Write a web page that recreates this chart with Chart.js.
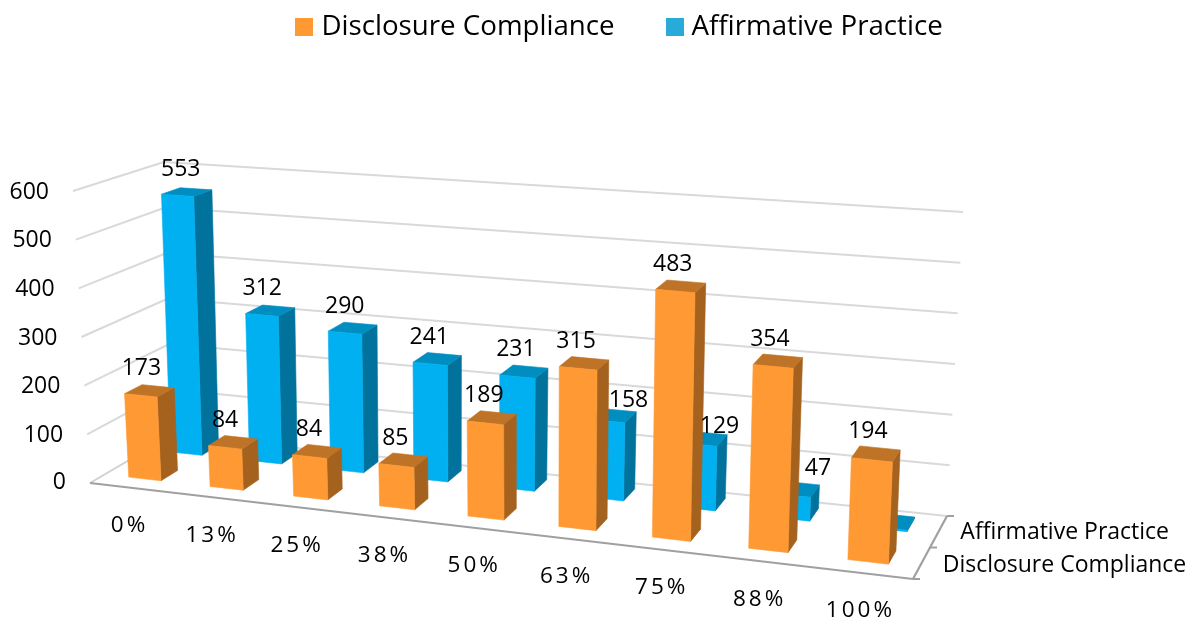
<!DOCTYPE html>
<html><head><meta charset="utf-8">
<style>html,body{margin:0;padding:0;background:#fff}#w{width:1194px;height:621px}</style>
<script src="https://cdn.jsdelivr.net/npm/chart.js@4/dist/chart.umd.min.js"></script>
</head><body><div id="w"><canvas id="c" width="1194" height="621"></canvas></div>
<script>
const categories = ['0%','13%','25%','38%','50%','63%','75%','88%','100%'];
const disclosure = [173,84,84,85,189,315,483,354,194];
const affirmative = [553,312,290,241,231,158,129,47,3];
const yTicks = {min:0,max:600,step:100};

// projection of the 3D box (corners of floor and of the 600 plane)
const box = {
  f0:[[90,483],[913,579]], b0:[[172,435],[947,516]],
  f1:[[73,191],[926,259]], b1:[[164,162],[963,212]]
};
const warp = u => 0.88*u/(1-u*0.12);
const mix = (a,b,t)=>[a[0]+(b[0]-a[0])*t,a[1]+(b[1]-a[1])*t];
function P(u,v,d){
  const g=warp(u);
  const lo=mix(mix(box.f0[0],box.f0[1],g),mix(box.b0[0],box.b0[1],g),d);
  const hi=mix(mix(box.f1[0],box.f1[1],g),mix(box.b1[0],box.b1[1],g),d);
  return mix(lo,hi,v);
}
const depth=[[0.18,0.39],[0.70,0.91]];
const styles=[
 {front:'#FF9933',side:'#A5621F',top:'#BF7327'},
 {front:'#00B0F0',side:'#00729C',top:'#008DBF'}
];
const legendColors=['#FF9933','#29ABD9'];
const fontFam='"Open Sans"';
const nudge={1:{0:[2,-1],5:[24,7],6:[24,10],7:[30,1]}};
const minLabel=10;

function legendBox(col){const c=document.createElement('canvas');c.width=18;c.height=18;const x=c.getContext('2d');x.fillStyle=col;x.fillRect(0,0,18,18);return c;}
function poly(ctx,pts,col){ctx.beginPath();pts.forEach((p,i)=>i?ctx.lineTo(p[0],p[1]):ctx.moveTo(p[0],p[1]));ctx.closePath();ctx.fillStyle=col;ctx.strokeStyle=col;ctx.lineWidth=.6;ctx.fill();ctx.stroke();}
function line(ctx,a,b,col,w){ctx.beginPath();ctx.moveTo(a[0],a[1]);ctx.lineTo(b[0],b[1]);ctx.strokeStyle=col;ctx.lineWidth=w;ctx.stroke();}
const norm=(chart,el)=>{const x=chart.scales.x,y=chart.scales.y;const U=p=>(p-x.left)/x.width,V=p=>(y.bottom-p)/y.height;
  return {u0:U(el.x-el.width/2),u1:U(el.x+el.width/2),uc:U(el.x),v0:V(el.base),v1:V(el.y)};};

const scene={id:'scene',
 beforeDatasetsDraw(chart){
  const ctx=chart.ctx,y=chart.scales.y;ctx.save();
  y.ticks.forEach(t=>{const v=(y.bottom-y.getPixelForValue(t.value))/y.height;
    const a=P(0,v,0),b=P(0,v,1),c=P(1,v,1);
    if(t.value>0){line(ctx,a,b,'#D9D9D9',2);}
    else line(ctx,a,b,'#D0D0D0',2);
    line(ctx,b,c,'#D9D9D9',2);
    ctx.font='23px '+fontFam;ctx.fillStyle='#000';ctx.textAlign='right';ctx.textBaseline='middle';
    ctx.fillText(String(t.value),a[0]-24,a[1]+1-(t.value?0:2));
  });
  const ax='#A0A0A0';
  line(ctx,P(0,0,0),P(1,0,0),ax,2.2);
  line(ctx,P(1,0,0),P(1,0,1),ax,2.2);
  [0,.5,1].forEach(d=>{const p=P(1,0,d);line(ctx,p,[p[0]+7,p[1]],ax,2);});
  ctx.restore();
 },
 beforeDatasetDraw(chart,args){
  const ctx=chart.ctx,meta=args.meta,i=args.index,[d0,d1]=depth[i],s=styles[i];
  ctx.save();
  meta.data.forEach(el=>{const n=norm(chart,el);
    poly(ctx,[P(n.u1,n.v0,d0),P(n.u1,n.v0,d1),P(n.u1,n.v1,d1),P(n.u1,n.v1,d0)],s.side);
    poly(ctx,[P(n.u0,n.v1,d0),P(n.u1,n.v1,d0),P(n.u1,n.v1,d1),P(n.u0,n.v1,d1)],s.top);
    poly(ctx,[P(n.u0,n.v0,d0),P(n.u1,n.v0,d0),P(n.u1,n.v1,d0),P(n.u0,n.v1,d0)],s.front);
  });
  ctx.restore();
  return false;
 },
 afterDatasetsDraw(chart){
  const ctx=chart.ctx,xs=chart.scales.x;ctx.save();
  ctx.fillStyle='#000';ctx.textAlign='center';ctx.textBaseline='middle';
  ctx.font='23px '+fontFam;
  chart.data.datasets.forEach((ds,i)=>{
    const [d0,d1]=depth[i];
    chart.getDatasetMeta(i).data.forEach((el,k)=>{
      if(ds.data[k]<minLabel)return;
      const n=norm(chart,el),p=P(n.uc,n.v1,(d0+d1)/2),o=(nudge[i]&&nudge[i][k])||[0,0];
      ctx.fillText(String(ds.data[k]),p[0]-8+o[0],p[1]-22+o[1]);
    });
  });
  ctx.font='22.5px '+fontFam;ctx.letterSpacing='3px';
  categories.forEach((c,k)=>{const p=P((xs.getPixelForValue(k)-xs.left)/xs.width,0,0);
    ctx.fillText(c,p[0]-1,p[1]+38);});
  ctx.letterSpacing='0px';ctx.textAlign='left';ctx.font='23px '+fontFam;
  chart.data.datasets.forEach((ds,i)=>{const p=P(1,0,(depth[i][0]+depth[i][1])/2);
    ctx.fillText(ds.label,p[0]+20,p[1]+4);});
  ctx.restore();
 }
};

new Chart(document.getElementById('c'),{
 type:'bar',
 data:{labels:categories,datasets:[
  {label:'Disclosure Compliance',data:disclosure,backgroundColor:styles[0].front,grouped:false},
  {label:'Affirmative Practice',data:affirmative,backgroundColor:styles[1].front,grouped:false}
 ]},
 plugins:[scene],
 options:{responsive:false,animation:false,
  layout:{padding:{top:-44,left:50}},
  datasets:{bar:{barPercentage:.4,categoryPercentage:1,grouped:false}},
  scales:{x:{display:false},y:{display:false,min:yTicks.min,max:yTicks.max,ticks:{stepSize:yTicks.step}}},
  plugins:{tooltip:{enabled:false},
   legend:{position:'top',onClick:null,labels:{
     usePointStyle:true,boxWidth:6.3,boxHeight:18,padding:56.85,color:'#000',
     font:{family:'Open Sans',size:27.7},
     generateLabels(chart){return chart.data.datasets.map((d,i)=>({text:d.label,datasetIndex:i,fillStyle:legendColors[i],strokeStyle:legendColors[i],lineWidth:0,pointStyle:legendBox(legendColors[i]),fontColor:'#000'}));}
   }}
  }
 }
});
</script></body></html>
